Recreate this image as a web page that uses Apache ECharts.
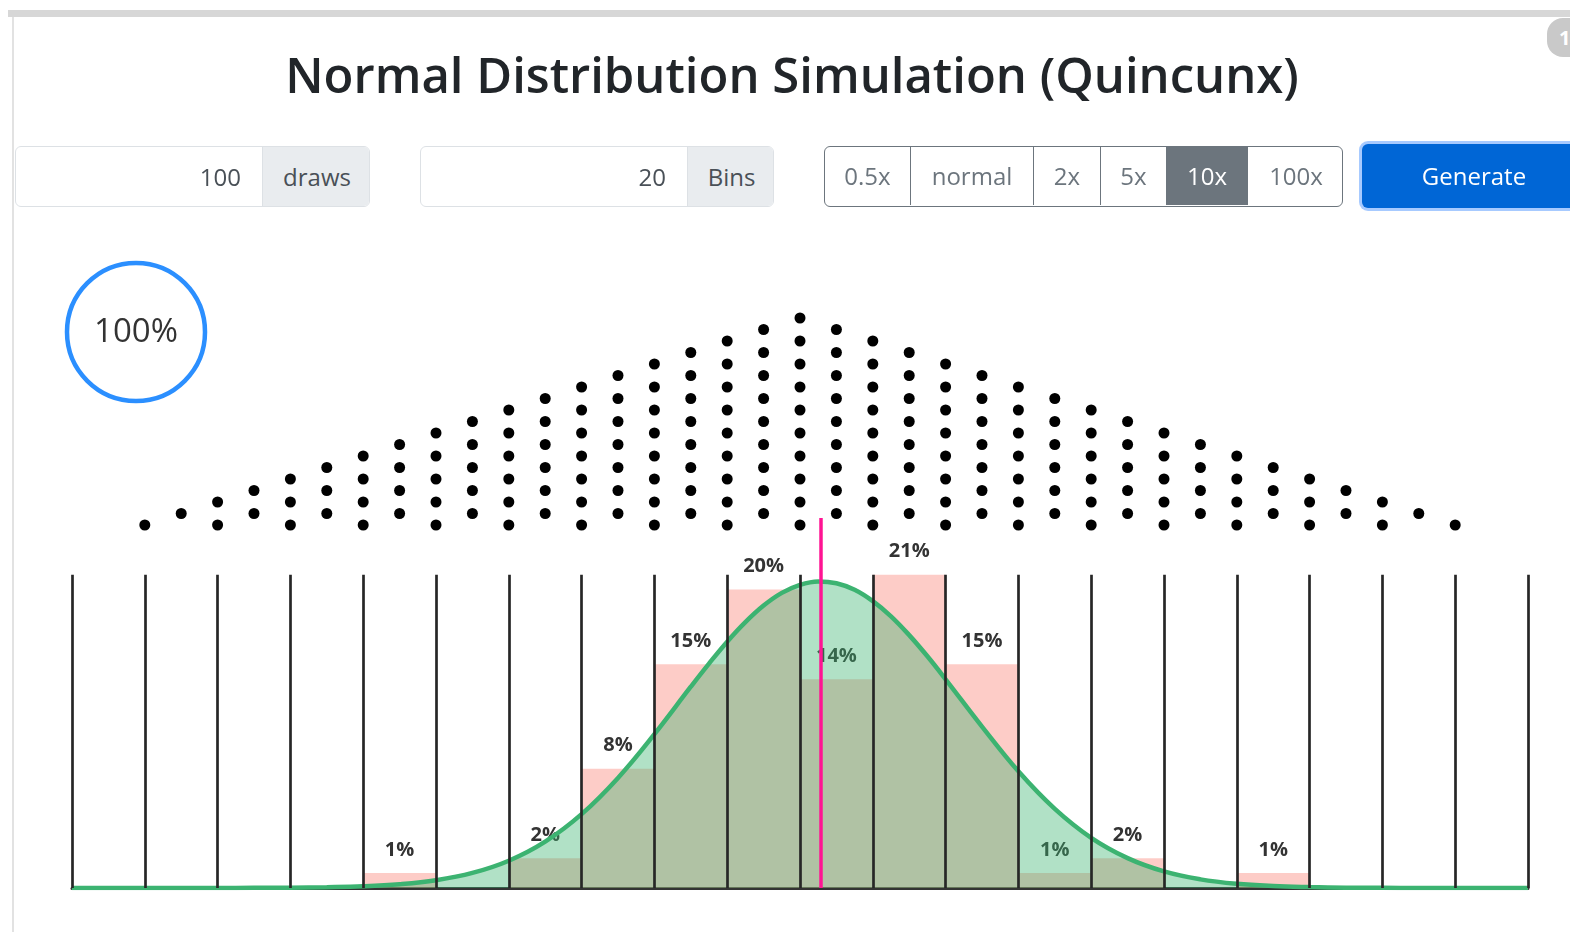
<!DOCTYPE html>
<html>
<head>
<meta charset="utf-8">
<script src="https://cdn.jsdelivr.net/npm/echarts@6/dist/echarts.min.js"></script>
<style>
html,body{margin:0;padding:0;width:1570px;height:932px;overflow:hidden;background:#fff;font-family:'Open Sans',sans-serif;}
#chart{position:absolute;left:0;top:0;width:1570px;height:932px;}
.topbar{position:absolute;left:8px;top:10px;width:1562px;height:7px;background:#d7d7d7;}
.leftbar{position:absolute;left:12px;top:17px;width:2px;height:915px;background:#e2e2e2;}
.badge{position:absolute;left:1547px;top:18px;width:60px;height:39px;border-radius:16px;background:#c9c9c9;color:#fff;font-weight:700;font-size:20px;line-height:39px;padding-left:12px;box-sizing:border-box;}
.ig{position:absolute;top:146px;height:61px;border:1px solid #dde1e5;border-radius:6px;box-sizing:border-box;overflow:hidden;}
.ig .in{position:absolute;left:0;top:0;height:59px;line-height:59px;text-align:right;font-size:24px;color:#495057;box-sizing:border-box;}
.ig .ad{position:absolute;top:0;height:59px;line-height:59px;text-align:center;font-size:24px;color:#495057;background:#e9ecef;border-left:1px solid #dde1e5;box-sizing:border-box;}
.bg{position:absolute;left:824px;top:146px;width:519px;height:61px;border:1.5px solid #6c757d;border-radius:6px;box-sizing:border-box;overflow:hidden;}
.bg div{position:absolute;top:0;height:58px;line-height:58px;text-align:center;font-size:24px;color:#6c757d;border-right:1px solid #6c757d;box-sizing:border-box;}
.bg div.act{background:#6c757d;color:#fff;}
.gen{position:absolute;left:1362px;top:144px;width:224px;height:64px;line-height:64px;text-align:center;background:#0066d6;color:#fff;font-size:24px;border-radius:6px;box-shadow:0 0 0 3px rgba(80,150,255,0.5);}
</style>
</head>
<body>
<div id="chart"></div>
<div class="topbar"></div>
<div class="leftbar"></div>
<div class="badge">1</div>
<div class="ig" style="left:15px;width:355px;">
  <div class="in" style="width:246px;padding-right:21px;">100</div>
  <div class="ad" style="left:246px;width:109px;">draws</div>
</div>
<div class="ig" style="left:420px;width:354px;">
  <div class="in" style="width:266px;padding-right:21px;">20</div>
  <div class="ad" style="left:266px;width:88px;">Bins</div>
</div>
<div class="bg">
  <div style="left:0;width:86px;">0.5x</div>
  <div style="left:86px;width:123px;">normal</div>
  <div style="left:209px;width:67px;">2x</div>
  <div style="left:276px;width:66px;">5x</div>
  <div class="act" style="left:342px;width:81px;">10x</div>
  <div style="left:423px;width:96px;border-right:none;">100x</div>
</div>
<div class="gen">Generate</div>
<script>
// ---- data ----
var titleText = 'Normal Distribution Simulation (Quincunx)';
var progressPct = 100;
var binLabels = ['1','2','3','4','5','6','7','8','9','10','11','12','13','14','15','16','17','18','19','20'];
var binPercents = [0,0,0,0,1,0,2,8,15,20,14,21,15,1,2,0,1,0,0,0];
var binEdges = [0,1,2,3,4,5,6,7,8,9,10,11,12,13,14,15,16,17,18,19,20];
var meanX = 10.29;
var curveX = [0,0.5,1,1.5,2,2.5,3,3.5,4,4.5,5,5.5,6,6.5,7,7.5,8,8.5,8.75,9,9.25,9.5,9.75,10,10.25,10.5,10.75,11,11.25,11.5,11.75,12,12.5,13,13.5,14,14.5,15,15.5,16,16.5,17,17.5,18,18.5,19,19.5,20];
var curveY = [0,0,0,0,0,0.01,0.02,0.05,0.11,0.25,0.52,1.01,1.83,3.11,4.95,7.38,10.31,13.49,15.04,16.51,17.82,18.93,19.78,20.32,20.55,20.43,19.99,19.23,18.21,16.95,15.53,13.99,10.82,7.82,5.30,3.36,2.00,1.11,0.58,0.28,0.13,0.06,0.02,0.01,0,0,0,0];
var pegColumnX = [1,1.5,2,2.5,3,3.5,4,4.5,5,5.5,6,6.5,7,7.5,8,8.5,9,9.5,10,10.5,11,11.5,12,12.5,13,13.5,14,14.5,15,15.5,16,16.5,17,17.5,18,18.5,19];
var pegCounts = [1,1,2,2,3,3,4,4,5,5,6,6,7,7,8,8,9,9,10,9,9,8,8,7,7,6,6,5,5,4,4,3,3,2,2,1,1];

// ---- build ----
var curveData = curveX.map(function(x,i){return [x, curveY[i]];});
var pegData = [];
pegColumnX.forEach(function(x, k){
  var startLevel = k % 2;
  for (var i = 0; i < pegCounts[k]; i++) pegData.push([x, startLevel + 2*i]);
});
var edgeLines = binEdges.map(function(e){return [{coord:[e,0]},{coord:[e,21]}];});

var chart = echarts.init(document.getElementById('chart'), null, {renderer:'canvas'});
chart.setOption({
  animation: false,
  backgroundColor: '#fff',
  grid: [
    {left:72, right:42, top:518, bottom:44},
    {left:72, right:42, top:318, bottom:407}
  ],
  xAxis: [
    {type:'category', gridIndex:0, data:binLabels, show:false, boundaryGap:true},
    {type:'value', gridIndex:0, min:0, max:20, show:true, position:'bottom',
      axisLine:{show:true, onZero:false, lineStyle:{color:'#333', width:3}},
      axisTick:{show:false}, axisLabel:{show:false}, splitLine:{show:false}},
    {type:'value', gridIndex:1, min:0, max:20, show:false}
  ],
  yAxis: [
    {type:'value', gridIndex:0, min:0, max:24.8, show:false, splitLine:{show:false}},
    {type:'value', gridIndex:1, min:0, max:18, show:false, splitLine:{show:false}}
  ],
  graphic: [
    {type:'text', x:792, y:79, z:10, style:{text:titleText, fill:'#212529', font:'600 49px "Open Sans"', textAlign:'center', textVerticalAlign:'middle'}},
    {type:'arc', shape:{cx:136, cy:332, r:69, startAngle:-Math.PI/2, endAngle:-Math.PI/2 + 2*Math.PI*progressPct/100, clockwise:true}, style:{stroke:'#2b8fff', lineWidth:4.5, fill:null}},
    {type:'text', x:136, y:333, style:{text:progressPct+'%', fill:'#333', font:'400 33px "Open Sans"', textAlign:'center', textVerticalAlign:'middle'}}
  ],
  series: [
    {type:'bar', xAxisIndex:0, yAxisIndex:0, data:binPercents, barWidth:'100%', z:1,
      itemStyle:{color:'rgba(250,128,114,0.4)'},
      label:{show:true, position:'top', distance:13, fontFamily:'Open Sans', fontWeight:'bold', fontSize:20, color:'#333',
        formatter:function(p){return p.value>0 ? p.value+'%' : '';}}},
    {type:'line', xAxisIndex:1, yAxisIndex:0, data:curveData, smooth:0.4, showSymbol:false, z:2,
      lineStyle:{width:0, opacity:0}, areaStyle:{color:'rgba(60,179,113,0.4)', opacity:1}},
    {type:'line', xAxisIndex:1, yAxisIndex:0, data:[[0,0]], showSymbol:false, z:3, lineStyle:{opacity:0},
      markLine:{silent:true, symbol:['none','none'], label:{show:false}, animation:false,
        lineStyle:{color:'#262626', width:2.7, type:'solid'}, data:edgeLines}},
    {type:'line', xAxisIndex:1, yAxisIndex:0, data:curveData, smooth:0.4, showSymbol:false, z:4,
      lineStyle:{color:'#3cb371', width:4.5}},
    {type:'line', xAxisIndex:1, yAxisIndex:0, data:[[meanX,0]], showSymbol:false, z:5, lineStyle:{opacity:0},
      markLine:{silent:true, symbol:['none','none'], label:{show:false}, animation:false,
        lineStyle:{color:'#ff1493', width:3.5, type:'solid'}, data:[[{coord:[meanX,0]},{coord:[meanX,24.8]}]]}},
    {type:'scatter', xAxisIndex:2, yAxisIndex:1, data:pegData, symbolSize:11, clip:false,
      itemStyle:{color:'#000', opacity:1}}
  ]
});
</script>
</body>
</html>
